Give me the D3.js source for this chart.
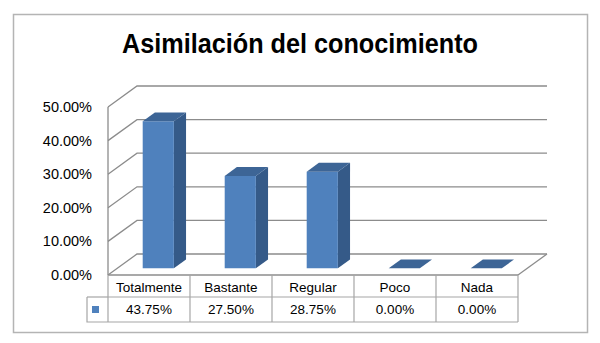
<!DOCTYPE html>
<html><head><meta charset="utf-8">
<script src="https://cdn.jsdelivr.net/npm/d3@7"></script>
<style>html,body{margin:0;padding:0;background:#fff;}svg{display:block;}</style>
</head><body>
<script>
const title = "Asimilación del conocimiento";
const categories = ["Totalmente", "Bastante", "Regular", "Poco", "Nada"];
const values = [0.4375, 0.2750, 0.2875, 0.0, 0.0];
const valueLabels = ["43.75%", "27.50%", "28.75%", "0.00%", "0.00%"];
const ticks = [0, 0.1, 0.2, 0.3, 0.4, 0.5];

const W = 600, H = 343;
const svg = d3.select("body").append("svg").attr("width", W).attr("height", H);
const font = "'Liberation Sans', Arial, sans-serif";

// outer border
svg.append("rect").attr("x", 13.5).attr("y", 14.5).attr("width", 574).attr("height", 318)
  .attr("fill", "#fff").attr("stroke", "#b4b4b4").attr("stroke-width", 1.5);

svg.append("text").attr("x", 300).attr("y", 53).attr("text-anchor", "middle")
  .attr("font-family", font).attr("font-weight", "bold").attr("font-size", 27)
  .attr("textLength", 356).attr("lengthAdjust", "spacingAndGlyphs")
  .attr("fill", "#000").text(title);

const x0 = 108, x1 = 518;
const DX = 29, DY = -21;
const x = d3.scaleBand().domain(categories).range([x0, x1]).paddingInner(0.62).paddingOuter(0.31);
const y = d3.scaleLinear().domain([0, 0.5]).range([275, 107]);
const P = (px, py, t) => [px + DX * t, py + DY * t];
const line = d3.line();

const grid = svg.append("g").attr("fill", "none").attr("stroke", "#8c8c8c").attr("stroke-width", 1.3);
// back-wall gridlines with left-wall diagonals
ticks.forEach(v => {
  grid.append("path").attr("d", line([P(x0, y(v), 0), P(x0, y(v), 1), P(x1, y(v), 1)]));
});
// left front axis
grid.append("path").attr("d", line([[x0, y(0.5)], [x0, y(0)]]));
// floor right edge
grid.append("path").attr("d", line([P(x1, y(0), 0), P(x1, y(0), 1)]));
grid.append("path").attr("d", line([[x0, y(0)], [x1, y(0)]]));

// tick labels
svg.append("g").selectAll("text").data(ticks).join("text")
  .attr("x", 92).attr("y", d => y(d)).attr("dy", "0.35em").attr("text-anchor", "end")
  .attr("font-family", font).attr("font-size", 14.5).attr("fill", "#000")
  .text(d => d3.format(".2%")(d));

// bars (3D)
const t1 = 0.32, t2 = 0.74;
const cFront = "#4f81bd", cSide = "#355a88", cTop = "#3d6596";
const bars = svg.append("g");
categories.forEach((c, i) => {
  const xa = x(c), xb = x(c) + x.bandwidth();
  const yb = y(0), yt = y(values[i]);
  const g = bars.append("g");
  if (values[i] > 0) {
    g.append("path").attr("fill", cSide).attr("d",
      line([P(xb, yb, t1), P(xb, yb, t2), P(xb, yt, t2), P(xb, yt, t1)]) + "Z");
    g.append("path").attr("fill", cFront).attr("d",
      line([P(xa, yb, t1), P(xb, yb, t1), P(xb, yt, t1), P(xa, yt, t1)]) + "Z");
  }
  g.append("path").attr("fill", cTop).attr("d",
    line([P(xa, yt, t1), P(xb, yt, t1), P(xb, yt, t2), P(xa, yt, t2)]) + "Z");
});

// data table
const tbl = svg.append("g").attr("fill", "none").attr("stroke", "#a6a6a6").attr("stroke-width", 1.2);
const r0 = 275, r1 = 297, r2 = 322;
const step = (x1 - x0) / categories.length;
const bounds = d3.range(categories.length + 1).map(i => x0 + i * step);
bounds.forEach(b => tbl.append("path").attr("d", line([[b, r0], [b, r2]])));
tbl.append("path").attr("d", line([[x0, r1], [x1, r1]]));
tbl.append("path").attr("d", line([[87, r1], [87, r2], [x1, r2]]));
tbl.append("path").attr("d", line([[87, r1], [x0, r1]]));
svg.append("rect").attr("x", 92).attr("y", 306).attr("width", 7).attr("height", 7).attr("fill", cFront);

const tx = svg.append("g").attr("font-family", font).attr("font-size", 13.5).attr("fill", "#000").attr("text-anchor", "middle");
categories.forEach((c, i) => {
  const cx = x0 + (i + 0.5) * step;
  tx.append("text").attr("x", cx).attr("y", (r0 + r1) / 2 + 1).attr("dy", "0.35em").text(c);
  tx.append("text").attr("x", cx).attr("y", (r1 + r2) / 2).attr("dy", "0.35em").text(valueLabels[i]);
});
</script>
</body></html>
